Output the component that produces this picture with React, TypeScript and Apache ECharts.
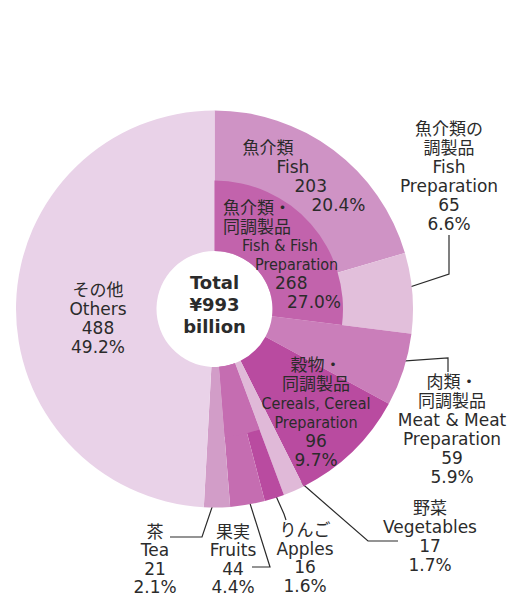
import React, { useEffect, useRef } from "react";
import * as echarts from "echarts";

// ---- data (¥ billion) ----
const outerKeys = ["fish", "fishPrep", "meat", "cereals", "vegetables", "apples", "fruits", "tea", "others"];
const namesJa = ["魚介類", "魚介類の\n調製品", "肉類・\n同調製品", "穀物・\n同調製品", "野菜", "りんご", "果実", "茶", "その他"];
const namesEn = ["Fish", "Fish\nPreparation", "Meat & Meat\nPreparation", "Cereals, Cereal\nPreparation", "Vegetables", "Apples", "Fruits", "Tea", "Others"];
const valuesBn = [203, 65, 59, 96, 17, 16, 44, 21, 488];
const sharePct = ["20.4%", "6.6%", "5.9%", "9.7%", "1.7%", "1.6%", "4.4%", "2.1%", "49.2%"];
const groupJa = "魚介類・\n同調製品";
const groupEn = "Fish & Fish\nPreparation";
const groupShare = "27.0%";
const totalLabel = ["Total", "billion"];

// ---- styles ----
const outerColors = ["#cf93c5", "#e2bfdb", "#ca7eba", "#b94ba0", "#e0b9d8", "#b94ba0", "#c56db1", "#d29dc8", "#e9d2e8"];
const groupColor = "#c263ac";
const TEXT = "#2b2b2b";
const MAIN_FONT = "'DejaVu Sans', 'Noto Sans CJK JP', sans-serif";
const COND_FONT = "'DejaVu Sans Condensed', 'Liberation Sans Narrow', 'Noto Sans CJK JP', sans-serif";
const CENTER = [214.5, 309];
const R0 = 58, R1 = 128.5, R2 = 198.5;

const v = (k: string) => valuesBn[outerKeys.indexOf(k)];
const groupValue = v("fish") + v("fishPrep");
const innerValues = [groupValue, v("meat"), v("cereals"), v("vegetables"), v("fruits"), v("tea"), v("others")];
// inner overlay: only the two-tone groups are painted, full wedges come from the base ring
const innerColors = [groupColor, "transparent", "transparent", "transparent", outerColors[6], "transparent", "transparent"];
const outerValues = outerKeys.map((k) => (k === "fruits" ? v("fruits") - v("apples") : v(k)));
const total = innerValues.reduce((a, b) => a + b, 0);

// label layout (positions only)
type Lay = { x: number; y: number; align: string; pads?: number[]; cond?: boolean; guide?: number[][]; gr?: number; lh?: number };
const outerLayout: Lay[] = [
  { x: 242.5, y: 138.5, align: "left", pads: [0, 34, 52, 69] },
  { x: 449, y: 119.5, align: "center", guide: [[449, 274], [449, 235]], gr: 171 },
  { x: 452, y: 372.5, align: "center", guide: [[448, 358], [448, 372]], gr: 175 },
  { x: 316, y: 355.5, align: "center", cond: true },
  { x: 430, y: 498.5, align: "center", guide: [[368, 541], [398, 541]], gr: 173 },
  { x: 305, y: 521, align: "center", guide: [[284, 514], [286, 520]], gr: 178, lh: 18.5 },
  { x: 233, y: 523, align: "center", guide: [[270, 567], [252, 567]], gr: 179, lh: 18.3 },
  { x: 155, y: 523, align: "center", guide: [[202, 537], [170, 537]], gr: 184, lh: 18.3 },
  { x: 98, y: 280.5, align: "center" },
];
const groupLayout: Lay = { x: 223, y: 198.5, align: "left", pads: [0, 0, 19, 32, 52, 64], cond: true, lh: 18.8 };

const rich: Record<string, any> = {};
function buildText(id: string, ja: string, en: string, value: number, pct: string, lay: Lay) {
  const jaLines = ja.split("\n");
  const enLines = en.split("\n");
  const lines = [...jaLines.map((t) => ({ t, c: false })), ...enLines.map((t) => ({ t, c: !!lay.cond })), { t: String(value), c: false }, { t: pct, c: false }];
  return lines
    .map((ln, i) => {
      const key = `${id}_${i}`;
      const pad = lay.pads ? lay.pads[i] || 0 : 0;
      rich[key] = {
        fontFamily: ln.c ? COND_FONT : MAIN_FONT,
        fontSize: ln.c ? 16 : 17,
        lineHeight: lay.lh || 19,
        color: TEXT,
        padding: [0, 0, 0, pad],
      };
      return `{${key}|${ln.t}}`;
    })
    .join("\n");
}

const outerTexts = outerKeys.map((k, i) => buildText(`o${i}`, namesJa[i], namesEn[i], valuesBn[i], sharePct[i], outerLayout[i]));
const groupText = buildText("g", groupJa, groupEn, groupValue, groupShare, groupLayout);

function midAngle(idx: number) {
  let acc = 0;
  for (let i = 0; i < idx; i++) acc += outerValues[i];
  return ((acc + outerValues[idx] / 2) / total) * 2 * Math.PI;
}
function anchor(idx: number, r: number) {
  const a = midAngle(idx);
  return [CENTER[0] + r * Math.sin(a), CENTER[1] - r * Math.cos(a)];
}

export default function App() {
  const ref = useRef<HTMLDivElement>(null);
  useEffect(() => {
    document.body.style.margin = "0";
    const chart = echarts.init(ref.current!, null, { renderer: "svg" });
    const insideIdx = [0, 3, 8];
    chart.setOption({
      animation: false,
      backgroundColor: "#ffffff",
      series: [
        {
          // base ring: full wedges from hole to rim
          type: "pie",
          silent: true,
          center: CENTER,
          radius: [R0, R2],
          startAngle: 90,
          clockwise: true,
          avoidLabelOverlap: false,
          itemStyle: { borderWidth: 0 },
          label: { show: true, position: "outside", rich, color: TEXT },
          labelLine: { show: true, length: 10, length2: 10, smooth: false, lineStyle: { color: "#2b2b2b", width: 1.2 } },
          data: outerValues.map((val, i) => ({
            value: val,
            name: outerKeys[i],
            itemStyle: { color: outerColors[i] },
            label: {
              show: true,
              position: insideIdx.includes(i) ? "inside" : "outside",
              formatter: outerTexts[i],
              rich,
            },
            labelLine: { show: !insideIdx.includes(i) },
          })),
          labelLayout: (p: any) => {
            const L = outerLayout[p.dataIndex];
            if (!L) return {};
            const res: any = { x: L.x, y: L.y, align: L.align, verticalAlign: "top" };
            if (L.guide) res.labelLinePoints = [anchor(p.dataIndex, L.gr || 175), L.guide[0], L.guide[1]];
            return res;
          },
          z: 1,
        },
        {
          // inner overlay: group totals (Fish & Fish Preparation, Fruits)
          type: "pie",
          silent: true,
          center: CENTER,
          radius: [R0, R1],
          startAngle: 90,
          clockwise: true,
          avoidLabelOverlap: false,
          itemStyle: { borderWidth: 0 },
          label: { show: false },
          labelLine: { show: false },
          data: innerValues.map((val, i) => ({
            value: val,
            itemStyle: { color: innerColors[i] },
            label: i === 0 ? { show: true, position: "inside", formatter: groupText, rich } : { show: false },
          })),
          labelLayout: (p: any) =>
            p.dataIndex === 0 ? { x: groupLayout.x, y: groupLayout.y, align: "left", verticalAlign: "top" } : {},
          z: 2,
        },
      ],
      graphic: [
        {
          type: "text",
          x: CENTER[0],
          y: 304.5,
          silent: true,
          z: 10,
          style: {
            text: `${totalLabel[0]}\n¥${total}\n${totalLabel[1]}`,
            fill: TEXT,
            font: `bold 18px ${MAIN_FONT}`,
            lineHeight: 22,
            align: "center",
            verticalAlign: "middle",
          },
        },
      ],
    });
    return () => chart.dispose();
  }, []);
  return <div ref={ref} style={{ width: 512, height: 597 }} />;
}
